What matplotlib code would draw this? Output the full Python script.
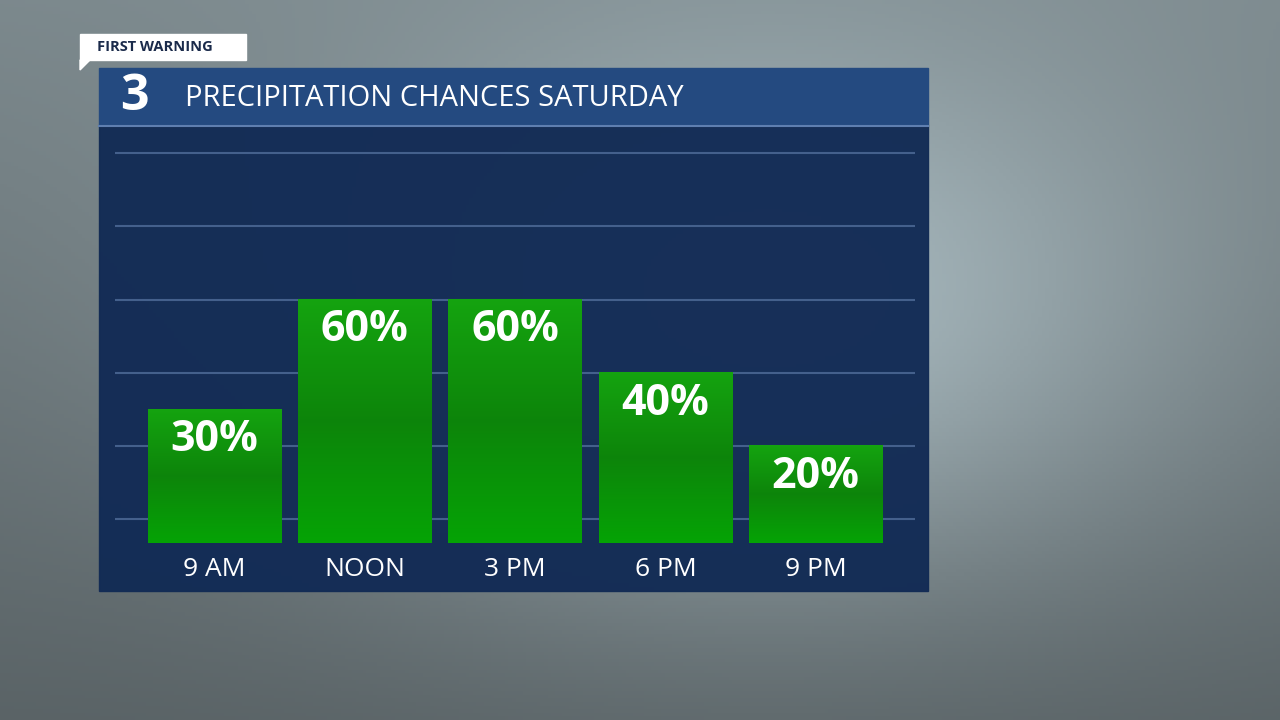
import matplotlib.pyplot as plt
import numpy as np
from matplotlib.patches import Rectangle, Polygon

hours = ['9 AM', 'NOON', '3 PM', '6 PM', '9 PM']
chances = [30, 60, 60, 40, 20]
title = 'PRECIPITATION CHANCES SATURDAY'

W, H = 1280, 720
fig = plt.figure(figsize=(12.8, 7.2), dpi=100)

# background (rainy window, approximated by a gradient)
bg = fig.add_axes([0, 0, 1, 1])
yy, xx = np.mgrid[0:1:200j, 0:1:360j]
shade = 0.55 + 0.25 * np.exp(-((xx - 0.6) ** 2 / 0.12 + (yy - 0.45) ** 2 / 0.15)) - 0.15 * yy
img = np.dstack([shade * 0.88, shade * 0.97, shade * 1.0])
bg.imshow(np.clip(img, 0, 1), extent=[0, W, H, 0], aspect='auto')
bg.set_xlim(0, W)
bg.set_ylim(H, 0)
bg.axis('off')

# panel and header
bg.add_patch(Rectangle((99, 125), 829, 466, color='#122b55', alpha=0.97))
bg.add_patch(Rectangle((99, 68), 829, 57, color='#244a80'))
bg.plot([99, 928], [126, 126], color='#5f7fb0', lw=1.5)
bg.text(185, 99, title, color='white', fontsize=21, va='center', family='Open Sans')
bg.text(134, 97, '3', color='white', fontsize=36, fontweight='bold', va='center', ha='center', family='Open Sans')
# "first warning" tag
bg.add_patch(Rectangle((80, 34), 166, 26, color='white'))
bg.add_patch(Polygon([[80, 60], [90, 60], [80, 70]], color='white'))
bg.text(97, 47, 'FIRST WARNING', color='#1a2a4a', fontsize=10.5, fontweight='bold', va='center', family='Open Sans')

# chart axes
x0, x1, y0, y1 = 115, 915, 130, 543
ax = fig.add_axes([x0 / W, 1 - y1 / H, (x1 - x0) / W, (y1 - y0) / H])
ax.set_facecolor('none')
bottom = -6.5
for g in [0, 20, 40, 60, 80, 100]:
    ax.axhline(g, color='#44608c', lw=1.5, zorder=1)

xs = np.arange(len(hours))
bars = ax.bar(xs, [c - bottom for c in chances], bottom=bottom, width=0.885,
              color='#0ea10e', zorder=2)
for b, c in zip(bars, chances):
    # slight vertical gradient
    grad = np.linspace(0, 1, 100).reshape(-1, 1)
    cols = np.dstack([0.02 + 0.06 * grad, 0.52 + 0.12 * np.abs(grad - 0.5) * 2, 0.02 + 0.04 * grad])
    ax.imshow(cols, extent=[b.get_x(), b.get_x() + b.get_width(), bottom, c],
              aspect='auto', zorder=2, origin='lower')
    ax.text(b.get_x() + b.get_width() / 2, c - 8.3, f'{c}%', color='white',
            fontsize=31, fontweight='bold', ha='center', va='center', zorder=3, family='Open Sans')
ax.set_xlim(-0.66, 4.66)
ax.set_ylim(bottom, 106.3)
ax.set_xticks(xs)
ax.set_xticklabels(hours, color='white', fontsize=19, family='Open Sans')
ax.tick_params(length=0, pad=10)
ax.set_yticks([])
for s in ax.spines.values():
    s.set_visible(False)

fig.savefig('out.png', dpi=100)
